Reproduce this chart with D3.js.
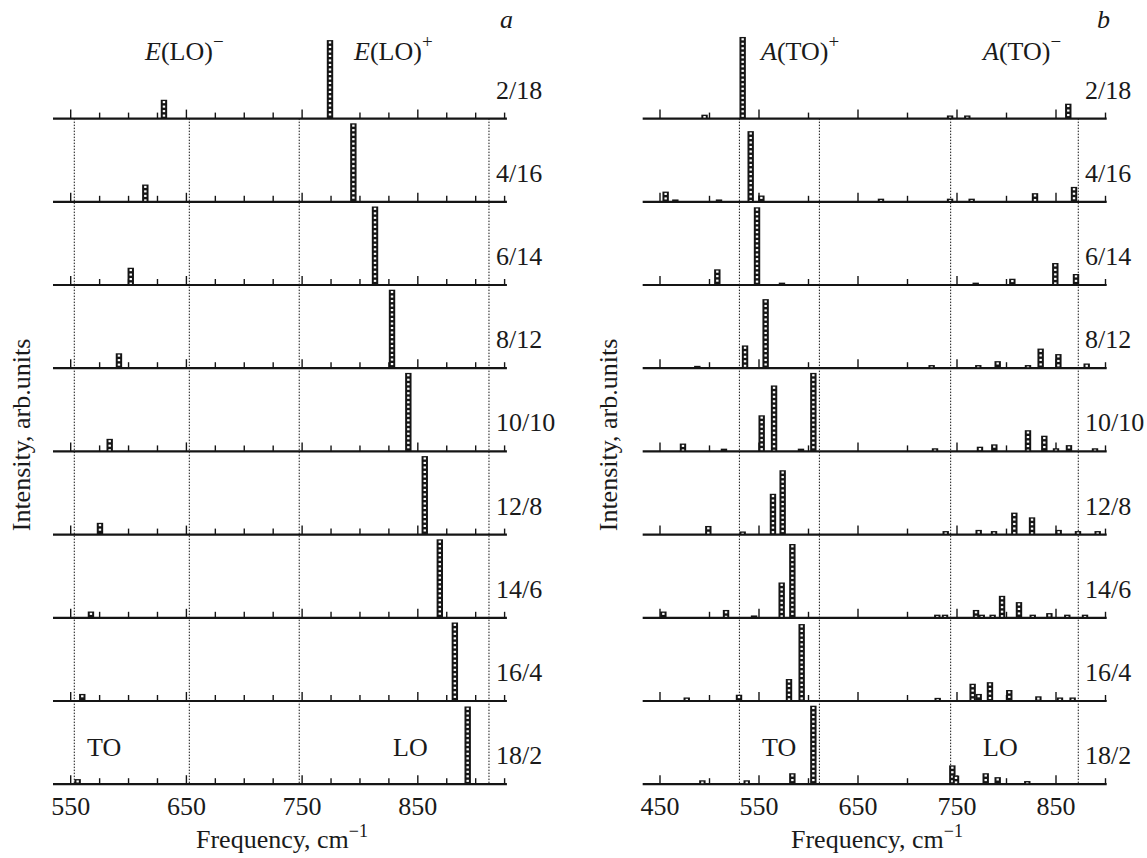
<!DOCTYPE html>
<html>
<head>
<meta charset="utf-8">
<script src="https://cdn.jsdelivr.net/npm/d3@7"></script>
<style>
body { margin: 0; background: #fff; }
text { font-family: "Liberation Serif", "Times New Roman", serif; fill: #1a1a1a; }
</style>
</head>
<body>
<svg id="chart" width="1147" height="858"></svg>
<script>
// row labels (x/y composition), same for both panels
var rowLabels = ["2/18", "4/16", "6/14", "8/12", "10/10", "12/8", "14/6", "16/4", "18/2"];

// panel a : E(LO)- and E(LO)+ modes, frequency (cm-1) and relative intensity
var freqMinusA = [630.6, 614.5, 601.9, 591.7, 583.7, 575.3, 567.5, 560, 556];
var intMinusA  = [0.24, 0.22, 0.22, 0.19, 0.16, 0.15, 0.08, 0.09, 0.065];
var freqPlusA  = [774.1, 794.3, 813, 827.7, 841.8, 856, 869, 882, 893.1];
var intPlusA   = [1.0, 1.0, 1.0, 1.0, 1.0, 1.0, 1.0, 1.0, 0.99];

// panel b : A(TO) spectra, one list of [frequency, intensity] per row
var rowB1 = [[495, 0.05], [533.5, 1.04], [743, 0.04], [760.4, 0.04], [862.4, 0.19]];
var rowB2 = [[455.7, 0.13], [465.5, 0.03], [509.6, 0.03], [541.6, 0.90], [552.4, 0.08], [673.2, 0.04],
             [743, 0.04], [764.8, 0.04], [828.8, 0.11], [868.2, 0.19]];
var rowB3 = [[507.9, 0.20], [548, 0.99], [573.2, 0.03], [768.9, 0.03], [805.9, 0.08], [849.3, 0.28], [870.2, 0.14]];
var rowB4 = [[487.7, 0.03], [535.9, 0.29], [556.7, 0.88], [724.4, 0.04], [771.5, 0.04], [791.1, 0.09],
             [821.7, 0.04], [834.5, 0.25], [852.4, 0.18], [881, 0.06]];
var rowB5 = [[473.2, 0.10], [514.6, 0.035], [552.7, 0.46], [565.2, 0.84], [592.4, 0.035], [604.9, 1.0],
             [727.8, 0.04], [773.2, 0.06], [787.7, 0.09], [821.7, 0.27], [838.2, 0.20], [850, 0.04],
             [863.1, 0.08], [889.4, 0.04]];
var rowB6 = [[498.8, 0.11], [533.5, 0.04], [564.1, 0.52], [573.9, 0.82], [738.6, 0.045], [771.9, 0.06],
             [787.4, 0.045], [807.9, 0.28], [825.8, 0.22], [852.7, 0.06], [872.2, 0.045], [892.1, 0.045]];
var rowB7 = [[453.4, 0.08], [516.7, 0.10], [545, 0.03], [572.9, 0.45], [583.7, 0.94], [730.1, 0.04],
             [737.9, 0.04], [769.2, 0.10], [775, 0.04], [786, 0.04], [795.5, 0.28], [812.6, 0.20],
             [826.5, 0.04], [843.3, 0.06], [861.4, 0.04], [879.3, 0.04]];
var rowB8 = [[477, 0.045], [529.8, 0.08], [580.3, 0.28], [593.1, 0.98], [730.5, 0.04], [765.8, 0.22],
             [771.9, 0.09], [783.3, 0.24], [802.8, 0.14], [832.2, 0.06], [854, 0.045], [866.8, 0.045]];
var rowB9 = [[492.8, 0.05], [537.6, 0.05], [583.7, 0.14], [604.9, 1.0], [745.3, 0.24], [749, 0.11],
             [779, 0.14], [791.1, 0.09], [821, 0.04]];
var rowsB = [rowB1, rowB2, rowB3, rowB4, rowB5, rowB6, rowB7, rowB8, rowB9];

// dotted reference lines (TO / LO frequencies)
var guidesA = [553.1, 652.5, 747.5, 911.5];
var guidesB = [530.2, 611, 743.6, 872.5];

var ticksA = [550, 575, 600, 625, 650, 675, 700, 725, 750, 775, 800, 825, 850, 875, 900, 925];
var ticksB = [450, 500, 550, 600, 650, 700, 750, 800, 850, 900];
var labelTicksA = [550, 650, 750, 850];
var labelTicksB = [450, 550, 650, 750, 850];

var ink = "#151515";
var svg = d3.select("#chart");

var rowY = d3.scaleLinear().domain([0, 8]).range([118.6, 784.2]);
var hScale = d3.scaleLinear().domain([0, 1]).range([0, 78.5]);

var xA = d3.scaleLinear().domain([550, 925]).range([70.7, 504.6]);
var xB = d3.scaleLinear().domain([450, 900]).range([660, 1105.5]);

var barW = 6.4, pitch = 4.5;

function drawBars(g, bars, x, baseY) {
    var sel = g.selectAll("g.bar").data(bars).enter().append("g").attr("class", "bar");
    sel.append("rect")
        .attr("x", function (d) { return x(d[0]) - barW / 2; })
        .attr("y", function (d) { return baseY - hScale(d[1]); })
        .attr("width", barW)
        .attr("height", function (d) { return hScale(d[1]); })
        .attr("fill", ink);
    // little white windows inside every bar
    sel.each(function (d) {
        var top = baseY - hScale(d[1]);
        var cells = [];
        for (var y0 = top + 1.3; y0 < baseY - 1.2; y0 += pitch) {
            var y1 = Math.min(y0 + 2.1, baseY - 1);
            if (y1 - y0 > 0.6) cells.push([y0, y1 - y0]);
        }
        d3.select(this).selectAll("rect.cell").data(cells).enter().append("rect")
            .attr("class", "cell")
            .attr("x", x(d[0]) - 1.2)
            .attr("y", function (c) { return c[0]; })
            .attr("width", 2.4)
            .attr("height", function (c) { return c[1]; })
            .attr("fill", "#fff");
    });
}

function drawPanel(cfg) {
    var g = svg.append("g");
    var x = cfg.x;

    // dotted guides from first to last baseline
    g.selectAll("line.guide").data(cfg.guides).enter().append("line")
        .attr("x1", function (d) { return x(d); }).attr("x2", function (d) { return x(d); })
        .attr("y1", rowY(0)).attr("y2", rowY(8))
        .attr("stroke", ink).attr("stroke-width", 1).attr("stroke-dasharray", "1.5,1.5");

    for (var r = 0; r < 9; r++) {
        var base = rowY(r);
        var row = g.append("g");
        row.append("line")
            .attr("x1", x(cfg.lineFrom)).attr("x2", x(cfg.lineTo))
            .attr("y1", base).attr("y2", base)
            .attr("stroke", ink).attr("stroke-width", 2.2);
        row.selectAll("line.tick").data(cfg.ticks).enter().append("line")
            .attr("x1", function (d) { return x(d); }).attr("x2", function (d) { return x(d); })
            .attr("y1", base)
            .attr("y2", function (d) { return base - (cfg.labelTicks.indexOf(d) >= 0 ? 9 : 6); })
            .attr("stroke", ink).attr("stroke-width", 1.4);
        drawBars(row, cfg.rows[r], x, base);
        row.append("text")
            .attr("x", cfg.rowLabelX).attr("y", base - 20)
            .attr("font-size", 26)
            .text(rowLabels[r]);
    }

    // tick labels under the last axis
    g.selectAll("text.tl").data(cfg.labelTicks).enter().append("text")
        .attr("x", function (d) { return x(d); }).attr("y", 815)
        .attr("text-anchor", "middle").attr("font-size", 26)
        .text(function (d) { return d; });

    var xl = g.append("text").attr("x", cfg.xLabelX).attr("y", 848)
        .attr("text-anchor", "middle").attr("font-size", 26);
    xl.append("tspan").text("Frequency, cm");
    xl.append("tspan").attr("dy", -11).attr("font-size", 18).text("\u22121");

    g.append("text")
        .attr("transform", "translate(" + cfg.yLabelX + ",435) rotate(-90)")
        .attr("text-anchor", "middle").attr("font-size", 26)
        .text("Intensity, arb.units");

    g.append("text").attr("x", cfg.letterX).attr("y", 28)
        .attr("font-size", 26).attr("font-style", "italic").text(cfg.letter);

    cfg.modes.forEach(function (m) {
        var t = g.append("text").attr("x", m.x).attr("y", 60).attr("font-size", 26);
        t.append("tspan").attr("font-style", "italic").text(m.sym);
        t.append("tspan").text(m.body);
        t.append("tspan").attr("dy", -12).attr("font-size", 19).text(m.sign);
    });

    cfg.bottom.forEach(function (b) {
        g.append("text").attr("x", b.x).attr("y", 756).attr("font-size", 26).text(b.t);
    });
}

var rowsA = freqMinusA.map(function (f, i) {
    return [[f, intMinusA[i]], [freqPlusA[i], intPlusA[i]]];
});

drawPanel({
    x: xA, rows: rowsA, guides: guidesA, ticks: ticksA, labelTicks: labelTicksA,
    lineFrom: 534.7, lineTo: 927, rowLabelX: 496, xLabelX: 282, yLabelX: 30,
    letter: "a", letterX: 500,
    modes: [{x: 145, sym: "E", body: "(LO)", sign: "\u2212"}, {x: 354, sym: "E", body: "(LO)", sign: "+"}],
    bottom: [{x: 87, t: "TO"}, {x: 393, t: "LO"}]
});

drawPanel({
    x: xB, rows: rowsB, guides: guidesB, ticks: ticksB, labelTicks: labelTicksB,
    lineFrom: 432.5, lineTo: 901.2, rowLabelX: 1085, xLabelX: 877, yLabelX: 617,
    letter: "b", letterX: 1097,
    modes: [{x: 761, sym: "A", body: "(TO)", sign: "+"}, {x: 983, sym: "A", body: "(TO)", sign: "\u2212"}],
    bottom: [{x: 762, t: "TO"}, {x: 983, t: "LO"}]
});
</script>
</body>
</html>
